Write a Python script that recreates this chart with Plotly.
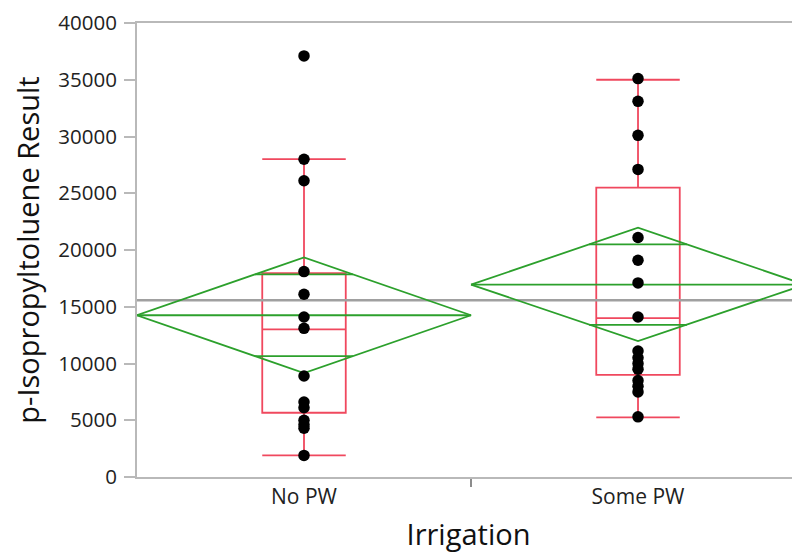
import plotly.graph_objects as go
import math

# ---- data ----
categories = ["No PW", "Some PW"]
cat_pos = [0, 1]

no_pw_values = [37100, 28000, 26100, 18100, 16100, 14100, 13100, 8900,
                6600, 6100, 5000, 4600, 4300, 1900]
some_pw_values = [35100, 33100, 30100, 27100, 21100, 19100, 17100, 14100,
                  11100, 10500, 10000, 9500, 8500, 8000, 7500, 5300]

box_q1 = [5660, 9000]
box_median = [13000, 14000]
box_q3 = [17970, 25500]
box_low = [1900, 5250]
box_high = [28000, 35000]

group_mean = [14250, 16950]
ci_lower = [9150, 11980]
ci_upper = [19350, 21960]
grand_mean = 15580

y_ticks = [0, 5000, 10000, 15000, 20000, 25000, 30000, 35000, 40000]
y_tick_text = [str(v) for v in y_ticks]

RED = "#f0485e"
GREEN = "#2ca02c"
GRAY = "#a0a0a0"
AXIS = "#b9b9b9"
FONT = "Open Sans"

fig = go.Figure()

# grand mean line
fig.add_trace(go.Scatter(x=[-0.5, 1.5], y=[grand_mean, grand_mean], mode="lines",
                         line=dict(color=GRAY, width=2.5), hoverinfo="skip"))

# box plots
for i, c in enumerate(cat_pos):
    fig.add_trace(go.Box(x=[c], q1=[box_q1[i]], median=[box_median[i]], q3=[box_q3[i]],
                         lowerfence=[box_low[i]], upperfence=[box_high[i]],
                         width=0.25, whiskerwidth=1, boxpoints=False,
                         line=dict(color=RED, width=1.8), fillcolor="rgba(0,0,0,0)"))

# means diamonds
half_w = 0.5
for i, c in enumerate(cat_pos):
    m, lo, hi = group_mean[i], ci_lower[i], ci_upper[i]
    fig.add_trace(go.Scatter(x=[c - half_w, c, c + half_w, c, c - half_w],
                             y=[m, hi, m, lo, m], mode="lines",
                             line=dict(color=GREEN, width=1.8), hoverinfo="skip"))
    fig.add_trace(go.Scatter(x=[c - half_w, c + half_w], y=[m, m], mode="lines",
                             line=dict(color=GREEN, width=1.8), hoverinfo="skip"))
    # overlap marks at mean +/- half-CI / sqrt(2)
    h = (hi - m) / math.sqrt(2)
    frac = 1 - h / (hi - m)
    for yy in (m + h, m - h):
        fig.add_trace(go.Scatter(x=[c - half_w * frac, c + half_w * frac], y=[yy, yy],
                                 mode="lines", line=dict(color=GREEN, width=1.8),
                                 hoverinfo="skip"))

# data points
fig.add_trace(go.Scatter(x=[cat_pos[0]] * len(no_pw_values), y=no_pw_values, mode="markers",
                         marker=dict(color="black", size=11.5), hoverinfo="y"))
fig.add_trace(go.Scatter(x=[cat_pos[1]] * len(some_pw_values), y=some_pw_values, mode="markers",
                         marker=dict(color="black", size=11.5), hoverinfo="y"))

# page body has an 8px margin: figure is sized so the plot area lands where the reference has it
fig.update_layout(
    width=792, height=545,
    margin=dict(l=129, r=0, t=12, b=76),
    plot_bgcolor="white", paper_bgcolor="white",
    showlegend=False,
    font=dict(family=FONT, color="#222222"),
    xaxis=dict(range=[-0.5, 1.485], tickmode="array", tickvals=cat_pos, ticktext=categories,
               ticks="", showgrid=False, zeroline=False,
               showline=True, linecolor=AXIS, linewidth=2, mirror=True,
               tickfont=dict(size=21, color="#222222"),
               minor=dict(tickmode="array", tickvals=[0.5], ticks="outside", ticklen=8,
                          tickcolor="#8c8c8c", tickwidth=1.5, showgrid=False),
               title=dict(text="Irrigation", font=dict(size=29, color="#111111"), standoff=16)),
    yaxis=dict(range=[0, 40000], tickmode="array", tickvals=y_ticks, ticktext=y_tick_text,
               ticks="outside", ticklen=11, tickcolor=AXIS, tickwidth=1.5,
               ticklabelstandoff=3, ticklabeloverflow="allow",
               showgrid=False, zeroline=False,
               showline=True, linecolor=AXIS, linewidth=2,
               tickfont=dict(size=20.5, color="#222222"),
               title=dict(text="p-Isopropyltoluene Result", font=dict(size=29, color="#111111"),
                          standoff=12)),
)

fig.write_html("out.html")
